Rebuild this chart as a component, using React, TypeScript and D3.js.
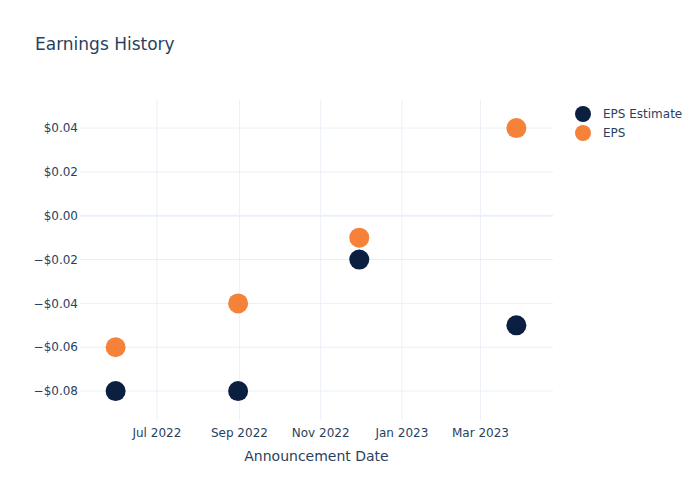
import React from "react";
import * as d3 from "d3";

const dates = ["2022-05-31", "2022-08-31", "2022-11-30", "2023-03-28"];
const epsEstimate = [-0.08, -0.08, -0.02, -0.05];
const eps = [-0.06, -0.04, -0.01, 0.04];
const yTicks = [-0.08, -0.06, -0.04, -0.02, 0, 0.02, 0.04];
const xTicks = ["2022-07-01", "2022-09-01", "2022-11-01", "2023-01-01", "2023-03-01"];
const seriesNames = ["EPS Estimate", "EPS"];
const colors = ["#0b1f41", "#f6823a"];

const W = 700, H = 500;
const M = { l: 80, r: 147, t: 100, b: 80 };
const FONT = '"DejaVu Sans", "Open Sans", sans-serif';
const TEXT = "#2a3f5f";
const GRID = "#ebf0f8";

const parse = d3.utcParse("%Y-%m-%d");

export default function App() {
  const x = d3
    .scaleUtc()
    .domain([new Date(Date.UTC(2022, 4, 4, 6)), new Date(Date.UTC(2023, 3, 24, 12))])
    .range([M.l, W - M.r]);
  const y = d3.scaleLinear().domain([-0.0932, 0.0528]).range([H - M.b, M.t]);
  const fmtY = (v: number) => {
    const s = "$" + Math.abs(v).toFixed(2);
    return v < -1e-9 ? "\u2212" + s : s;
  };
  const fmtX = d3.utcFormat("%b %Y");
  const series = [epsEstimate, eps];

  return (
    <svg width={W} height={H} style={{ position: "absolute", left: 0, top: 0, background: "#fff" }} fontFamily={FONT}>
      <rect x={0} y={0} width={W} height={H} fill="#fff" />
      {xTicks.map((t) => {
        const px = x(parse(t)!);
        return <line key={t} x1={px} x2={px} y1={M.t} y2={H - M.b} stroke={GRID} strokeWidth={1} />;
      })}
      {yTicks.map((t) => (
        <line
          key={t}
          x1={M.l}
          x2={W - M.r}
          y1={y(t)}
          y2={y(t)}
          stroke={GRID}
          strokeWidth={t === 0 ? 2 : 1}
        />
      ))}
      {yTicks.map((t) => (
        <text key={"yl" + t} x={M.l - 2} y={y(t)} dy="0.35em" textAnchor="end" fontSize={12} fill={TEXT}>
          {fmtY(t)}
        </text>
      ))}
      {xTicks.map((t) => (
        <text key={"xl" + t} x={x(parse(t)!)} y={H - M.b + 17} textAnchor="middle" fontSize={12} fill={TEXT}>
          {fmtX(parse(t)!)}
        </text>
      ))}
      <text x={(M.l + W - M.r) / 2} y={461} textAnchor="middle" fontSize={14} fill={TEXT}>
        Announcement Date
      </text>
      <text x={35} y={50} fontSize={17} fill={TEXT}>
        Earnings History
      </text>
      {series.map((vals, si) =>
        vals.map((v, i) => (
          <circle key={si + "-" + i} cx={x(parse(dates[i])!)} cy={y(v)} r={10} fill={colors[si]} />
        ))
      )}
      {seriesNames.map((n, i) => (
        <g key={n} transform={`translate(583, ${114 + i * 19})`}>
          <circle cx={0} cy={0} r={8} fill={colors[i]} />
          <text x={20} y={0} dy="0.35em" fontSize={12} fill={TEXT}>
            {n}
          </text>
        </g>
      ))}
    </svg>
  );
}
